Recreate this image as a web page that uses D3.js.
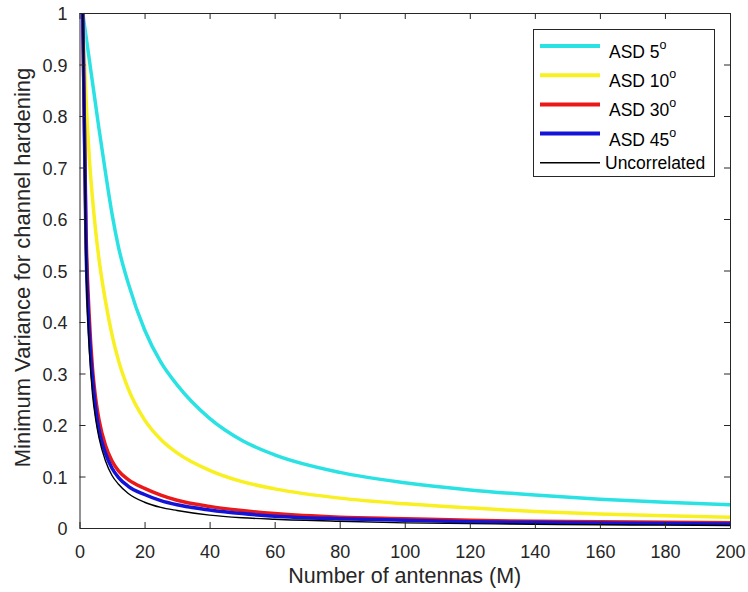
<!DOCTYPE html>
<html>
<head>
<meta charset="utf-8">
<script src="https://cdn.jsdelivr.net/npm/d3@7"></script>
<style>
  body { margin: 0; background: #fff; }
  svg { display: block; font-family: "Liberation Sans", Arial, sans-serif; }
</style>
</head>
<body>
<svg id="chart" width="748" height="592"></svg>
<script>
// number of antennas where values were read
const antennas = [1, 2, 3, 4, 5, 6, 8, 10, 12, 15, 20, 25, 30, 40, 50, 60, 80, 100, 120, 140, 160, 180, 200];

// minimum variance, one array per curve
const asd5  = [1, 0.955, 0.91, 0.865, 0.82, 0.775, 0.69, 0.61, 0.545, 0.475, 0.385, 0.322, 0.278, 0.213, 0.17, 0.142, 0.108, 0.088, 0.074, 0.064, 0.056, 0.05, 0.045];
const asd10 = [1, 0.835, 0.72, 0.64, 0.575, 0.522, 0.44, 0.375, 0.325, 0.27, 0.21, 0.172, 0.146, 0.112, 0.09, 0.076, 0.058, 0.047, 0.039, 0.032, 0.027, 0.024, 0.021];
const asd30 = [1, 0.58, 0.41, 0.31, 0.25, 0.21, 0.16, 0.13, 0.111, 0.094, 0.077, 0.064, 0.054, 0.042, 0.034, 0.028, 0.021, 0.018, 0.015, 0.013, 0.012, 0.011, 0.010];
const asd45 = [1, 0.55, 0.38, 0.29, 0.23, 0.19, 0.145, 0.116, 0.098, 0.081, 0.065, 0.053, 0.045, 0.035, 0.028, 0.023, 0.018, 0.015, 0.012, 0.011, 0.0095, 0.0085, 0.008];
const uncorrelated = [1, 0.52, 0.35, 0.26, 0.21, 0.175, 0.13, 0.102, 0.085, 0.067, 0.05, 0.04, 0.034, 0.025, 0.02, 0.017, 0.013, 0.01, 0.0085, 0.0072, 0.0063, 0.0056, 0.005];

const legendNames = ["ASD 5", "ASD 10", "ASD 30", "ASD 45", "Uncorrelated"];
const xTicks = [0, 20, 40, 60, 80, 100, 120, 140, 160, 180, 200];
const yTicks = [0, 0.1, 0.2, 0.3, 0.4, 0.5, 0.6, 0.7, 0.8, 0.9, 1];

const series = [
  {name: legendNames[0], values: asd5,  color: "#2ae2e4", width: 3.5, sup: true},
  {name: legendNames[1], values: asd10, color: "#f8f020", width: 3.5, sup: true},
  {name: legendNames[2], values: asd30, color: "#ea1818", width: 3.5, sup: true},
  {name: legendNames[3], values: asd45, color: "#1414d8", width: 3.5, sup: true},
  {name: legendNames[4], values: uncorrelated, color: "#000000", width: 1.4, sup: false}
];

const svg = d3.select("#chart");
const plotLeft = 79.5, plotRight = 730, plotTop = 13, plotBottom = 528;
const axisColor = "#262626";

const x = d3.scaleLinear().domain([0, 200]).range([plotLeft, plotRight]);
const y = d3.scaleLinear().domain([0, 1]).range([plotBottom, plotTop]);

svg.append("defs").append("clipPath").attr("id", "plotClip")
  .append("rect")
  .attr("x", plotLeft).attr("y", plotTop - 2)
  .attr("width", plotRight - plotLeft).attr("height", plotBottom - plotTop + 2);

// curves, drawn in legend order so black ends on top
const line = d3.line()
  .x((d, i) => x(antennas[i]))
  .y(d => y(d))
  .curve(d3.curveMonotoneX);

svg.append("g").attr("clip-path", "url(#plotClip)")
  .selectAll("path")
  .data(series)
  .enter()
  .append("path")
  .attr("fill", "none")
  .attr("stroke", d => d.color)
  .attr("stroke-width", d => d.width)
  .attr("stroke-linejoin", "round")
  .attr("d", d => line(d.values));

// axes box with inward ticks on all sides
const tickLen = 6;
const makeAxis = (axisFn, scale, ticks, fmt) =>
  axisFn(scale).tickValues(ticks).tickSizeInner(-tickLen).tickSizeOuter(0).tickFormat(fmt);

const gx = svg.append("g").attr("transform", `translate(0,${plotBottom})`)
  .call(makeAxis(d3.axisBottom, x, xTicks, d3.format("d")));
const gxTop = svg.append("g").attr("transform", `translate(0,${plotTop})`)
  .call(makeAxis(d3.axisTop, x, xTicks, () => ""));
const gy = svg.append("g").attr("transform", `translate(${plotLeft},0)`)
  .call(makeAxis(d3.axisLeft, y, yTicks, d => d === 0 || d === 1 ? String(d) : d.toFixed(1)));
const gyRight = svg.append("g").attr("transform", `translate(${plotRight},0)`)
  .call(makeAxis(d3.axisRight, y, yTicks, () => ""));

[gx, gxTop, gy, gyRight].forEach(g => {
  g.select(".domain").attr("stroke", axisColor).attr("stroke-width", 1);
  g.selectAll(".tick line").attr("stroke", axisColor).attr("stroke-width", 1);
  g.selectAll("text").attr("fill", axisColor).style("font-size", "18px")
    .style("font-family", "'Liberation Sans', Arial, sans-serif");
});
gx.selectAll(".tick text").attr("dy", null).attr("y", 30);
gy.selectAll(".tick text").attr("dy", null).attr("x", -12).attr("y", 6.5);

// axis labels
svg.append("text")
  .attr("x", (plotLeft + plotRight) / 2).attr("y", 583)
  .attr("text-anchor", "middle")
  .attr("fill", axisColor)
  .style("font-size", "21.5px")
  .text("Number of antennas (M)");

svg.append("text")
  .attr("transform", `translate(30,${(plotTop + plotBottom) / 2 - 3}) rotate(-90)`)
  .attr("text-anchor", "middle")
  .attr("fill", axisColor)
  .style("font-size", "22px")
  .text("Minimum Variance for channel hardening");

// legend
const legend = svg.append("g");
legend.append("rect")
  .attr("x", 533.5).attr("y", 29.5)
  .attr("width", 181).attr("height", 147)
  .attr("fill", "#fff").attr("stroke", axisColor).attr("stroke-width", 1);

const rowY = i => 46 + i * 29.2;
const entries = legend.selectAll("g.entry")
  .data(series)
  .enter()
  .append("g")
  .attr("class", "entry");

entries.append("line")
  .attr("x1", 540).attr("x2", 600)
  .attr("y1", (d, i) => rowY(i)).attr("y2", (d, i) => rowY(i))
  .attr("stroke", d => d.color)
  .attr("stroke-width", d => d.sup ? 4 : 1.4);

const labels = entries.append("text")
  .attr("x", d => d.sup ? 609 : 605)
  .attr("y", (d, i) => rowY(i) + (d.sup ? 12 : 6.5))
  .attr("fill", "#000")
  .style("font-size", "17.5px")
  .text(d => d.name);

labels.filter(d => d.sup)
  .append("tspan")
  .attr("dy", -9)
  .style("font-size", "12.5px")
  .text("o");
</script>
</body>
</html>
